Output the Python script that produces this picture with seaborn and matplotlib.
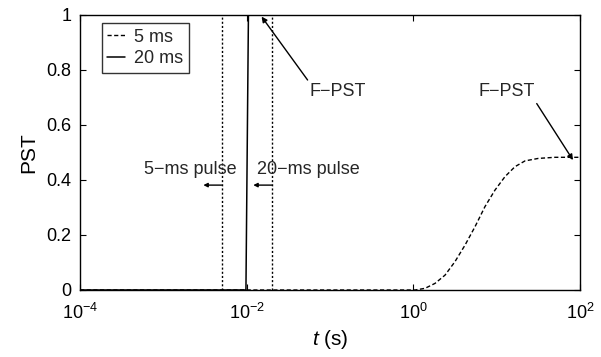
import numpy as np
import pandas as pd
import matplotlib
matplotlib.use("Agg")
import matplotlib.pyplot as plt
import seaborn as sns

# ---- data ----
t_5ms = [1e-4, 1.0, 1.05, 1.38, 1.82, 2.40, 3.16, 4.17, 5.50, 7.24, 9.55,
         12.6, 16.6, 21.9, 31.6, 50.1, 100.0]
pst_5ms = [0.0, 0.0, 0.0, 0.006, 0.024, 0.054, 0.103, 0.163, 0.230, 0.303,
           0.363, 0.412, 0.448, 0.469, 0.478, 0.482, 0.482]
t_20ms = [1e-4, 0.0098, 0.0105, 100.0]
pst_20ms = [0.0, 0.0, 1.0, 1.0]
pulse_ends = [0.005, 0.02]
legend_labels = ["5 ms", "20 ms"]
xtick_vals = [1e-4, 1e-2, 1e0, 1e2]
ytick_vals = [0, 0.2, 0.4, 0.6, 0.8, 1]
ytick_labels = ["0", "0.2", "0.4", "0.6", "0.8", "1"]

sns.set_theme(style="ticks")
plt.rcParams["font.family"] = ["Liberation Sans", "DejaVu Sans"]
plt.rcParams["mathtext.fontset"] = "custom"
plt.rcParams["mathtext.rm"] = "Liberation Sans"
plt.rcParams["mathtext.it"] = "Liberation Sans:italic"
plt.rcParams["axes.unicode_minus"] = True

fig = plt.figure(figsize=(6.01, 3.57), dpi=100)
ax = fig.add_axes([80 / 601, 67 / 357, 500 / 601, 275.3 / 357])

df5 = pd.DataFrame({"t": t_5ms, "pst": pst_5ms})
df20 = pd.DataFrame({"t": t_20ms, "pst": pst_20ms})

sns.lineplot(data=df5, x="t", y="pst", ax=ax, color="black", lw=1.0,
             linestyle=(0, (3, 1.8)), label=legend_labels[0], sort=False)
sns.lineplot(data=df20, x="t", y="pst", ax=ax, color="black", lw=1.1,
             linestyle="-", label=legend_labels[1], sort=False)

for x in pulse_ends:
    ax.axvline(x, color="black", lw=1.0, linestyle=(0, (1.5, 1.5)))

ax.set_xscale("log")
ax.set_xlim(1e-4, 1e2)
ax.set_ylim(0, 1)
ax.set_xticks(xtick_vals)
ax.xaxis.set_minor_locator(matplotlib.ticker.NullLocator())
ax.set_yticks(ytick_vals)
ax.set_yticklabels(ytick_labels)

ax.tick_params(axis="both", which="both", direction="in", top=True, right=True,
               length=4, width=0.8, labelsize=13, colors="black", pad=6)
ax.tick_params(axis="x", pad=9)
for s in ax.spines.values():
    s.set_color("black")
    s.set_linewidth(1.0)

ax.set_xlabel("$t$ (s)", fontsize=15, color="black", labelpad=4)
ax.set_ylabel("PST", fontsize=15, color="black", labelpad=6)

leg = ax.legend(loc="upper left", bbox_to_anchor=(0.043, 0.969), borderaxespad=0,
                fontsize=13, frameon=True, fancybox=False, handlelength=1.0,
                handletextpad=0.5, borderpad=0.3, labelspacing=0.25)
leg.get_frame().set_edgecolor("black")
leg.get_frame().set_linewidth(1.0)

# annotations
ax.annotate("F\u2212PST", xy=(0.0151, 0.993), xytext=(0.0575, 0.72),
            fontsize=13, ha="left", va="center",
            arrowprops=dict(arrowstyle="-|>", color="black", lw=1.0,
                            mutation_scale=8, shrinkA=0, shrinkB=0,
                            relpos=(0.0, 1.0)))
ax.annotate("F\u2212PST", xy=(82.4, 0.472), xytext=(13.1, 0.72),
            fontsize=13, ha="center", va="center",
            arrowprops=dict(arrowstyle="-|>", color="black", lw=1.0,
                            mutation_scale=8, shrinkA=0, shrinkB=0,
                            relpos=(1.0, 0.0)))

ax.text(0.00209, 0.438, "5\u2212ms pulse", fontsize=13, ha="center", va="center")
ax.text(0.0550, 0.438, "20\u2212ms pulse", fontsize=13, ha="center", va="center")
ax.annotate("", xy=(0.00302, 0.381), xytext=(0.005, 0.381),
            arrowprops=dict(arrowstyle="-|>", color="black", lw=1.0,
                            mutation_scale=6, shrinkA=0, shrinkB=0))
ax.annotate("", xy=(0.012, 0.381), xytext=(0.02, 0.381),
            arrowprops=dict(arrowstyle="-|>", color="black", lw=1.0,
                            mutation_scale=6, shrinkA=0, shrinkB=0))

fig.savefig("out.png", dpi=100, facecolor="white")
